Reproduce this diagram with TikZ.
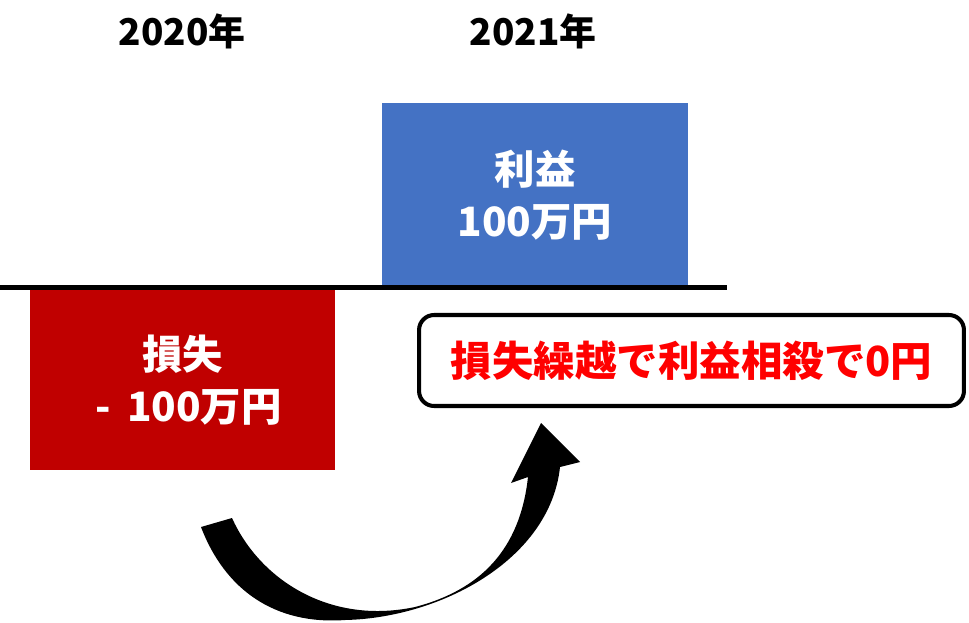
\documentclass[tikz,border=0pt]{standalone}
\usepackage{fontspec}
\setmainfont{Noto Sans CJK JP}
\usetikzlibrary{positioning}

\definecolor{gainblue}{HTML}{4472C4}
\definecolor{lossred}{HTML}{C00000}

\begin{document}
\begin{tikzpicture}[x=0.02cm,y=-0.02cm,
                    year/.style={font=\fontsize{21pt}{25pt}\selectfont\bfseries},
                    bar/.style={minimum width=6.12cm,inner sep=0pt,align=center,
                                text=white,font=\fontsize{23pt}{29.5pt}\selectfont\bfseries},
                    note/.style={draw,line width=2.3pt,rounded corners=0.3cm,fill=white,
                                 minimum width=10.9cm,minimum height=1.82cm,
                                 text=red,font=\fontsize{23.6pt}{28pt}\selectfont\bfseries}]

  \useasboundingbox (0,0) rectangle (969,622);

  \node[year] (y20) at (182,31) {2020年};
  \node[year] (y21) at (533,31) {2021年};

  \node[bar,fill=gainblue,minimum height=3.68cm] (gain) at (535,195) {利益\\100万円};
  \node[bar,fill=lossred,minimum height=3.62cm]  (loss) at (182.5,380) {損失\\\hspace*{0.3em}-\hspace{0.4em}100万円};

  \coordinate (axl) at (0,287.5);
  \coordinate (axr) at (727,287.5);
  \draw[line width=2.8pt] (axl) -- (axr);

  \node[note] (sum) at (691.5,360.5) {損失繰越で利益相殺で0円};

  % curved arrow from the loss to the sum
  \fill (201,527) .. controls (225,590) and (275,625) .. (345,620)
        .. controls (440,618) and (550,560) .. (560,467)
        -- (580,462) -- (541,423) -- (511,483) -- (528,477)
        .. controls (520,550) and (480,590) .. (415,607)
        .. controls (330,625) and (260,580) .. (232,518) -- cycle;
\end{tikzpicture}
\end{document}
